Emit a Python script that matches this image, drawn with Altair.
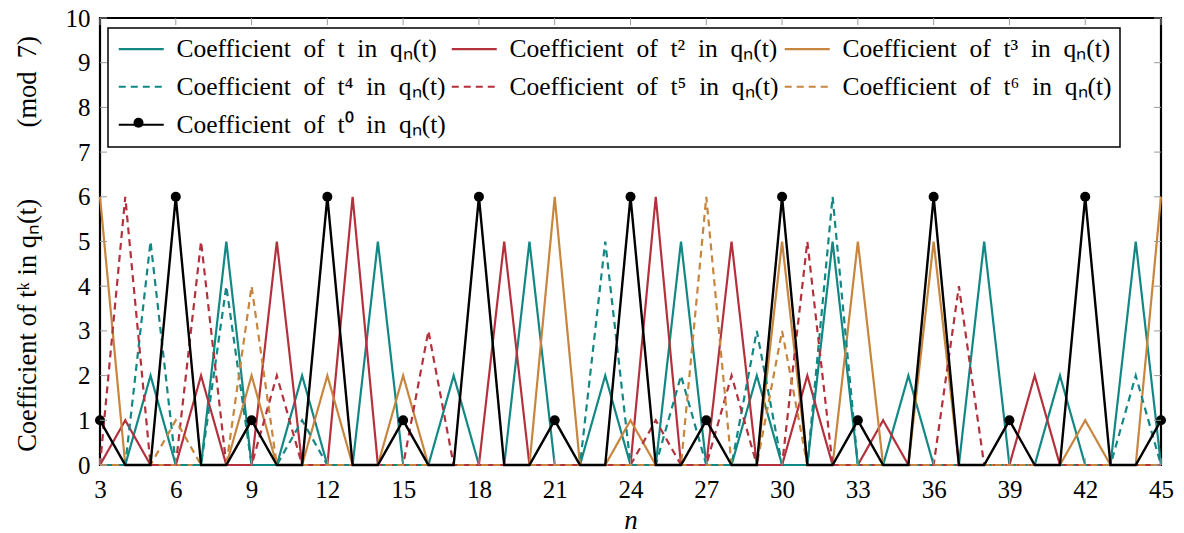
import altair as alt
import pandas as pd

# ---------------- data ----------------
n_values = list(range(3, 46))

# coefficient values, n = 3 .. 45
coef_t1 = [0, 0, 2, 0, 0, 5,  0, 0, 2, 0, 0, 5,  0, 0, 2, 0, 0, 5,  0, 0, 2, 0, 0, 5,
           0, 0, 2, 0, 0, 5,  0, 0, 2, 0, 0, 5,  0, 0, 2, 0, 0, 5,  0]
coef_t2 = [0, 1, 0, 0, 2, 0,  0, 5, 0, 0, 6, 0,  0, 0, 0, 0, 5, 0,  0, 0, 0, 0, 6, 0,
           0, 5, 0, 0, 2, 0,  0, 1, 0, 0, 0, 0,  0, 2, 0, 0, 0, 0,  0]
coef_t3 = [6, 0, 0, 0, 0, 0,  2, 0, 0, 2, 0, 0,  2, 0, 0, 0, 0, 0,  6, 0, 0, 1, 0, 0,
           0, 0, 0, 5, 0, 0,  5, 0, 0, 5, 0, 0,  0, 0, 0, 1, 0, 0,  6]
coef_t4 = [0, 0, 5, 0, 0, 4,  0, 0, 1, 0, 0, 0,  0, 0, 0, 0, 0, 0,  0, 0, 5, 0, 0, 2,
           0, 0, 3, 0, 0, 6,  0, 0, 0, 0, 0, 0,  0, 0, 0, 0, 0, 2,  0]
coef_t5 = [0, 6, 0, 0, 5, 0,  0, 2, 0, 0, 0, 0,  0, 3, 0, 0, 0, 0,  0, 0, 0, 0, 1, 0,
           0, 2, 0, 0, 5, 0,  0, 0, 0, 0, 4, 0,  0, 0, 0, 0, 0, 0,  0]
coef_t6 = [0, 0, 0, 1, 0, 0,  4, 0, 0, 0, 0, 0,  0, 0, 0, 0, 0, 0,  0, 0, 0, 0, 0, 0,
           6, 0, 0, 3, 0, 0,  0, 0, 0, 0, 0, 0,  0, 0, 0, 0, 0, 0,  0]
coef_t0 = [1, 0, 0, 6, 0, 0,  1, 0, 0, 6, 0, 0,  1, 0, 0, 6, 0, 0,  1, 0, 0, 6, 0, 0,
           1, 0, 0, 6, 0, 0,  1, 0, 0, 6, 0, 0,  1, 0, 0, 6, 0, 0,  1]

SP = "\u2002"  # en space (wider, TeX-like word spacing in the legend)
series_labels = [
    f"Coefficient{SP}of{SP}t{SP}in{SP}qₙ(t)",
    f"Coefficient{SP}of{SP}t²{SP}in{SP}qₙ(t)",
    f"Coefficient{SP}of{SP}t³{SP}in{SP}qₙ(t)",
    f"Coefficient{SP}of{SP}t⁴{SP}in{SP}qₙ(t)",
    f"Coefficient{SP}of{SP}t⁵{SP}in{SP}qₙ(t)",
    f"Coefficient{SP}of{SP}t⁶{SP}in{SP}qₙ(t)",
    f"Coefficient{SP}of{SP}t⁰{SP}in{SP}qₙ(t)",
]
series_values = [coef_t1, coef_t2, coef_t3, coef_t4, coef_t5, coef_t6, coef_t0]
y_title = "Coefficient of tᵏ in qₙ(t)\u2003\u2003\u2002\u2009(mod\u20027)"
x_title = "n"

x_ticks = list(range(3, 46, 3))
y_ticks = list(range(0, 11))

# ---------------- style ----------------
TEAL = "#128783"
RED = "#b3313c"
ORANGE = "#c7853e"
series_colors = [TEAL, RED, ORANGE, TEAL, RED, ORANGE, "#000000"]
series_dashes = [[1, 0], [1, 0], [1, 0], [7, 5], [7, 5], [7, 5], [1, 0]]
FONT = "Liberation Serif"

rows = []
for label, vals in zip(series_labels, series_values):
    for n, v in zip(n_values, vals):
        rows.append({"n": n, "coef": v, "series": label})
df = pd.DataFrame(rows)

W, H = 1061, 447

xscale = alt.Scale(domain=[3, 45], nice=False, zero=False)
yscale = alt.Scale(domain=[0, 10], nice=False, zero=True)
color_scale = alt.Scale(domain=series_labels, range=series_colors)
dash_scale = alt.Scale(domain=series_labels, range=series_dashes)

LEG_X, LEG_Y, LEG_PAD = 8, 10, 8
LABEL_FS = 25.5
ROW_PAD = 11
legend = alt.Legend(
    title=None,
    orient="none",
    direction="horizontal",
    legendX=LEG_X,
    legendY=LEG_Y,
    columns=3,
    symbolType="M-1,0H3.5",
    symbolSize=400,
    symbolStrokeWidth=2.2,
    labelOffset=35,
    columnPadding=1,
    rowPadding=ROW_PAD,
    padding=LEG_PAD,
    labelFont=FONT,
    labelFontSize=LABEL_FS,
    labelColor="black",
    labelLimit=600,
    fillColor="white",
    strokeColor="black",
)

# small extra legend that only puts the marker dot on the t^0 legend entry
DOT_SIZE = 100
dot_r = DOT_SIZE ** 0.5 / 2
line_center_x = LEG_X + LEG_PAD + 10 + 12.5       # centre of the legend's line symbol
row3_center_y = LEG_Y + LEG_PAD + 2 * (LABEL_FS + ROW_PAD) + LABEL_FS / 2 + 1
dot_legend = alt.Legend(
    title=None,
    orient="none",
    legendX=line_center_x - dot_r,
    legendY=row3_center_y - dot_r,
    padding=0,
    symbolSize=DOT_SIZE,
    symbolFillColor="black",
    symbolStrokeColor="black",
    symbolStrokeWidth=0,
    labelExpr="''",
    labelFontSize=1,
    labelOffset=0,
    zindex=2,
)

x_axis = alt.Axis(
    values=x_ticks, ticks=False, domain=False, grid=False, labelFlush=False,
    labelFont=FONT, labelFontSize=25, labelColor="black", labelPadding=12,
    title=x_title, titleFont=FONT, titleFontSize=27, titleFontStyle="italic",
    titleFontWeight="normal", titleColor="black",
    titleX=W / 2, titleY=55, titleBaseline="middle",
)
y_axis = alt.Axis(
    values=y_ticks, ticks=False, domain=False, grid=False, labelFlush=False,
    labelFont=FONT, labelFontSize=25, labelColor="black", labelPadding=10,
    title=y_title, titleFont=FONT, titleFontSize=26.5,
    titleFontWeight="normal", titleColor="black",
    titleX=-73, titleY=H / 2 + 2, titleAngle=-90, titleAlign="center",
    titleBaseline="middle",
)

X = alt.X("n:Q", scale=xscale, axis=x_axis)
Y = alt.Y("coef:Q", scale=yscale, axis=y_axis)

base = alt.Chart(df)

colored = base.transform_filter(
    alt.FieldOneOfPredicate(field="series", oneOf=series_labels[:6])
).mark_line(strokeWidth=2.2).encode(
    x=X,
    y=Y,
    color=alt.Color("series:N", scale=color_scale, legend=legend),
    strokeDash=alt.StrokeDash("series:N", scale=dash_scale, legend=legend),
)

black_line = base.transform_filter(
    alt.datum.series == series_labels[6]
).mark_line(strokeWidth=2.4, color="black").encode(x=X, y=Y)

black_points = base.transform_filter(
    (alt.datum.series == series_labels[6]) & (alt.datum.n % 3 == 0)
).mark_point(filled=True, size=DOT_SIZE, color="black", opacity=1).encode(
    x=X,
    y=Y,
    shape=alt.Shape(
        "series:N",
        scale=alt.Scale(domain=[series_labels[6]], range=["circle"]),
        legend=dot_legend,
    ),
)

# inward tick marks (pgfplots style) on all four sides
xt = alt.Chart(pd.DataFrame({"v": x_ticks}))
yt = alt.Chart(pd.DataFrame({"v": y_ticks}))
TICK = "#9a9a9a"
XV = alt.X("v:Q", scale=xscale, axis=x_axis)
YV = alt.Y("v:Q", scale=yscale, axis=y_axis)
ticks_bottom = xt.mark_rule(color=TICK, strokeWidth=1).encode(
    x=XV, y=alt.value(H), y2=alt.value(H - 7))
ticks_top = xt.mark_rule(color=TICK, strokeWidth=1).encode(
    x=XV, y=alt.value(0), y2=alt.value(7))
ticks_left = yt.mark_rule(color=TICK, strokeWidth=1).encode(
    y=YV, x=alt.value(0), x2=alt.value(7))
ticks_right = yt.mark_rule(color=TICK, strokeWidth=1).encode(
    y=YV, x=alt.value(W), x2=alt.value(W - 7))

chart = alt.layer(
    colored, black_line, black_points,
    ticks_bottom, ticks_top, ticks_left, ticks_right,
).properties(
    width=W,
    height=H,
    padding={"left": 92, "top": 10, "right": 15, "bottom": 68},
    autosize=alt.AutoSizeParams(type="none"),
).configure_view(
    stroke="black", strokeWidth=2.2
).configure_legend(
    strokeWidth=1.5
)

chart.save("out.html", embed_options={"renderer": "svg", "actions": False})
